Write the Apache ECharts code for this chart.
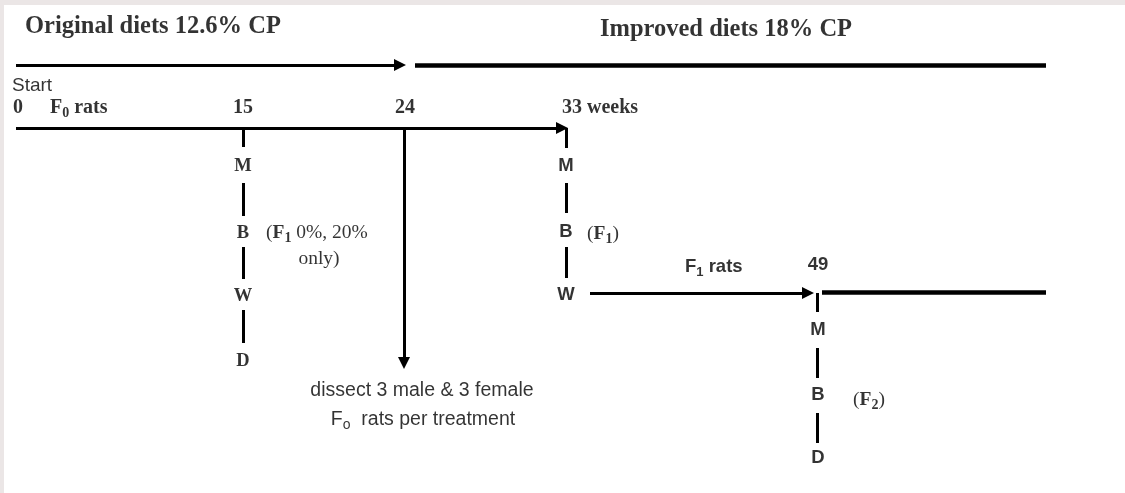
<!DOCTYPE html>
<html>
<head>
<meta charset="utf-8">
<title>Diet timeline</title>
<script src="https://cdn.jsdelivr.net/npm/echarts@6/dist/echarts.min.js"></script>
<style>
  html, body { margin: 0; padding: 0; background: #ebe6e6; }
  #chart { position: absolute; left: 4px; top: 5px; width: 1121px; height: 488px; background: #fff; }
</style>
</head>
<body>
<div id="chart"></div>
<script>
// layout units = picture pixels (schematic, not to scale in weeks)
// arrows: [from, to]
const arrowSegs = [
  [[16, 65], [400, 65]],
  [[16, 128], [562, 128]],
  [[404, 128], [404, 363]],
  [[590, 293], [808, 293]]
];
// thick plain lines (improved diet period)
const thickSegs = [
  [[415, 65], [1046, 65]],
  [[822, 292], [1046, 292]]
];
// short vertical dashes between M / B / W / D
const dashSegs = [
  [[243, 130], [243, 147]], [[243, 183], [243, 216]], [[243, 247], [243, 279]], [[243, 310], [243, 343]],
  [[566, 128], [566, 148]], [[566, 183], [566, 213]], [[566, 247], [566, 278]],
  [[817, 293], [817, 312]], [[817, 348], [817, 378]], [[817, 413], [817, 443]]
];

// texts: [x, y, text, style, align]
const headTexts = [
  [25, 27, 'Original diets 12.6% CP', 'head', 'left'],
  [600, 30, 'Improved diets 18% CP', 'head', 'left']
];
const weekTexts = [
  [12, 86, 'Start', 'sans', 'left'],
  [13, 108, '0', 'serifW', 'left'],
  [50, 108, 'F{sb|0} rats', 'serifW', 'left'],
  [243, 108, '15', 'serifW', 'center'],
  [405, 108, '24', 'serifW', 'center'],
  [562, 108, '33 weeks', 'serifW', 'left'],
  [818, 265, '49', 'sansB', 'center'],
  [685, 267, 'F{ssb|1} rats', 'sansB', 'left']
];
const stepTexts = [
  [243, 166, 'M', 'serifB', 'center'], [243, 233, 'B', 'serifB', 'center'],
  [243, 296, 'W', 'serifB', 'center'], [243, 361, 'D', 'serifB', 'center'],
  [566, 166, 'M', 'sansB', 'center'], [566, 232, 'B', 'sansB', 'center'],
  [566, 295, 'W', 'sansB', 'center'],
  [818, 330, 'M', 'sansB', 'center'], [818, 395, 'B', 'sansB', 'center'],
  [818, 458, 'D', 'sansB', 'center']
];
const noteTexts = [
  [266, 233, '({fb|F}{sb|1} 0%, 20%', 'serif', 'left'],
  [319, 259, 'only)', 'serif', 'center'],
  [587, 234, '({fb|F}{sb|1})', 'serif', 'left'],
  [853, 400, '({fb|F}{sb|2})', 'serif', 'left'],
  [422, 391, 'dissect 3 male & 3 female', 'sansL', 'center'],
  [423, 420, 'F{ss|o}  rats per treatment', 'sansL', 'center']
];

const fonts = {
  head: { fontFamily: 'Liberation Serif', fontWeight: 'bold', fontSize: 24.5 },
  serifW: { fontFamily: 'Liberation Serif', fontWeight: 'bold', fontSize: 20 },
  serifB: { fontFamily: 'Liberation Serif', fontWeight: 'bold', fontSize: 18.5 },
  serif: { fontFamily: 'Liberation Serif', fontWeight: 'normal', fontSize: 19.5 },
  sansB: { fontFamily: 'Liberation Sans', fontWeight: 'bold', fontSize: 18.5 },
  sans: { fontFamily: 'Liberation Sans', fontWeight: 'normal', fontSize: 19 },
  sansL: { fontFamily: 'Liberation Sans', fontWeight: 'normal', fontSize: 19.5 }
};
// subscripts: smaller, pushed down
const rich = {
  sb: { color: '#000', fontFamily: 'Liberation Serif', fontWeight: 'bold', fontSize: 14, lineHeight: 14, padding: [9, 0, 0, 0], verticalAlign: 'bottom' },
  ssb: { color: '#000', fontFamily: 'Liberation Sans', fontWeight: 'bold', fontSize: 13, lineHeight: 13, padding: [9, 0, 0, 0], verticalAlign: 'bottom' },
  ss: { color: '#000', fontFamily: 'Liberation Sans', fontSize: 14, lineHeight: 14, padding: [9, 0, 0, 0], verticalAlign: 'bottom' },
  fb: { color: '#000', fontFamily: 'Liberation Serif', fontWeight: 'bold', fontSize: 19.5 }
};

function textItems(list) {
  return list.map(function (t) {
    const f = fonts[t[3]];
    return {
      value: [t[0], t[1]],
      label: {
        show: true,
        position: 'inside',
        formatter: t[2],
        align: t[4],
        verticalAlign: 'middle',
        color: '#000',
        textBorderWidth: 0,
        fontFamily: f.fontFamily,
        fontWeight: f.fontWeight,
        fontSize: f.fontSize,
        lineHeight: 24,
        rich: rich
      }
    };
  });
}

function segItems(list) {
  return list.map(function (s) { return { coords: s }; });
}

var chart = echarts.init(document.getElementById('chart'));
chart.setOption({
  animation: false,
  grid: { left: 0, right: 0, top: 0, bottom: 0 },
  xAxis: { type: 'value', min: 4, max: 1125, show: false },
  yAxis: { type: 'value', min: 5, max: 493, inverse: true, show: false },
  series: [
    {
      type: 'lines',
      coordinateSystem: 'cartesian2d',
      symbol: ['none', 'triangle'],
      symbolSize: 12,
      lineStyle: { color: '#000', width: 3, opacity: 1, curveness: 0 },
      data: segItems(arrowSegs)
    },
    {
      type: 'lines',
      coordinateSystem: 'cartesian2d',
      symbol: 'none',
      lineStyle: { color: '#000', width: 4.5, opacity: 1 },
      data: segItems(thickSegs)
    },
    {
      type: 'lines',
      coordinateSystem: 'cartesian2d',
      symbol: 'none',
      lineStyle: { color: '#000', width: 3, opacity: 1 },
      data: segItems(dashSegs)
    },
    {
      type: 'scatter',
      symbolSize: 0,
      silent: true,
      data: textItems(headTexts.concat(weekTexts, stepTexts, noteTexts))
    }
  ]
});
</script>
</body>
</html>
